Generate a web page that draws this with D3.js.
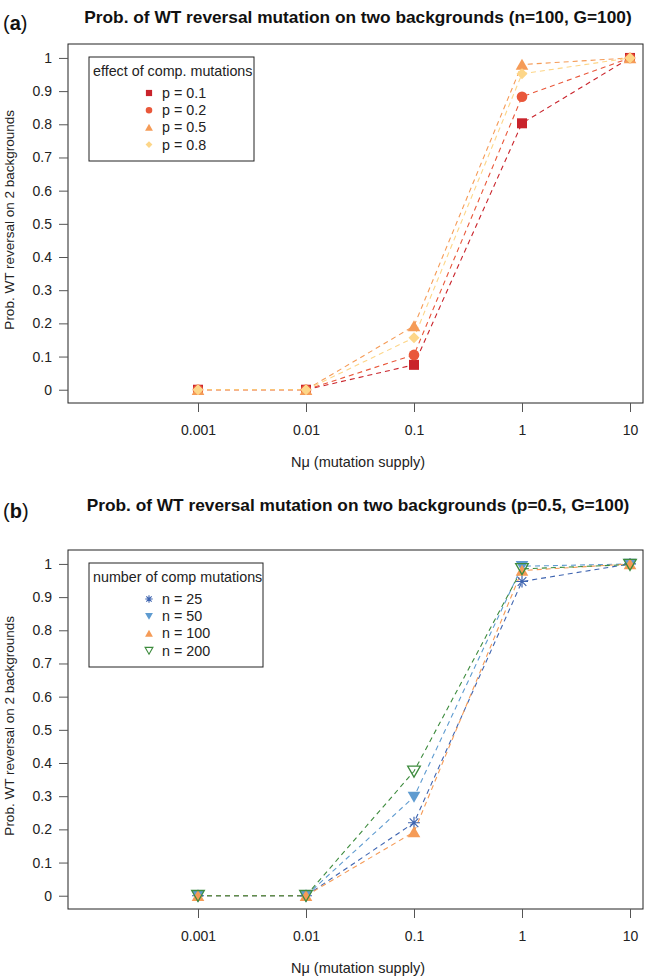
<!DOCTYPE html>
<html><head><meta charset="utf-8">
<script src="https://cdn.jsdelivr.net/npm/d3@7"></script>
<style>body{margin:0;background:#fff;} svg{display:block;font-family:"Liberation Sans",Arial,sans-serif;}</style>
</head><body>
<svg id="c" width="655" height="978"></svg>
<script>
// ---- data ----
const xValues = [0.001, 0.01, 0.1, 1, 10];
const xTickLabels = ["0.001", "0.01", "0.1", "1", "10"];
const yTicks = [0, 0.1, 0.2, 0.3, 0.4, 0.5, 0.6, 0.7, 0.8, 0.9, 1];

const seriesNamesA = ["p = 0.1", "p = 0.2", "p = 0.5", "p = 0.8"];
const p01 = [0, 0, 0.075, 0.803, 1.0];
const p02 = [0, 0, 0.105, 0.883, 1.0];
const p05 = [0, 0, 0.192, 0.98, 1.0];
const p08 = [0, 0, 0.157, 0.952, 1.0];

const seriesNamesB = ["n = 25", "n = 50", "n = 100", "n = 200"];
const n25 = [0, 0, 0.22, 0.947, 1.0];
const n50 = [0, 0, 0.298, 0.993, 1.0];
const n100 = [0, 0, 0.192, 0.98, 1.0];
const n200 = [0, 0, 0.375, 0.985, 0.998];

const titleA = "Prob. of WT reversal mutation on two backgrounds (n=100, G=100)";
const titleB = "Prob. of WT reversal mutation on two backgrounds (p=0.5, G=100)";
const legendTitleA = "effect of comp. mutations";
const legendTitleB = "number of comp mutations";
const xTitle = "Nμ (mutation supply)";
const yTitle = "Prob. WT reversal on 2 backgrounds";

// ---- drawing ----
const svg = d3.select("#c");
const shapes = {
  square: s => `M${-s},${-s}H${s}V${s}H${-s}Z`,
  circle: s => `M${s},0A${s},${s} 0 1,1 ${-s},0A${s},${s} 0 1,1 ${s},0Z`,
  triUp: s => `M0,${-s*1.05}L${s*1.15},${s*0.95}L${-s*1.15},${s*0.95}Z`,
  triDown: s => `M0,${s*1.05}L${s*1.15},${-s*0.95}L${-s*1.15},${-s*0.95}Z`,
  diamond: s => `M0,${-s}L${s},0L0,${s}L${-s},0Z`,
  asterisk: s => `M${-s},0H${s}M0,${-s}V${s}M${-s*0.72},${-s*0.72}L${s*0.72},${s*0.72}M${-s*0.72},${s*0.72}L${s*0.72},${-s*0.72}`
};
const FS = 14;

function panel(cfg) {
  const g = svg.append("g");
  const L = 68, R = 643, T = cfg.top, B = cfg.top + 359;
  const x = d3.scaleLog().domain([Math.pow(10, -3 - 130/108), Math.pow(10, 1 + 13/108)]).range([L, R]);
  const y = d3.scaleLinear().domain([-0.04, 1.042]).range([B, T]);

  // title
  g.append("text").attr("x", 358).attr("y", cfg.titleY).attr("text-anchor", "middle")
    .attr("font-size", 17.3).attr("font-weight", "bold").attr("fill", "#111").text(cfg.title);
  const lab = g.append("text").attr("x", 3).attr("y", cfg.titleY + 7).attr("font-size", 20).attr("fill", "#111");
  lab.append("tspan").text("(");
  lab.append("tspan").attr("font-weight", "bold").text(cfg.letter);
  lab.append("tspan").text(")");

  // box
  g.append("rect").attr("x", L).attr("y", T).attr("width", R - L).attr("height", B - T)
    .attr("fill", "none").attr("stroke", "#222").attr("stroke-width", 1);

  // axes
  const yAx = g.append("g").attr("transform", `translate(${L},0)`)
    .call(d3.axisLeft(y).tickValues(yTicks).tickSize(9).tickPadding(7).tickFormat(d3.format("~g")));
  yAx.select(".domain").remove();
  yAx.selectAll("line").attr("stroke", "#555");
  yAx.selectAll("text").attr("font-size", FS).attr("fill", "#222").attr("font-family", "Liberation Sans, Arial, sans-serif");

  const xAx = g.append("g").attr("transform", `translate(0,${B})`)
    .call(d3.axisBottom(x).tickValues(xValues).tickSize(9).tickPadding(13).tickFormat((d, i) => xTickLabels[i]));
  xAx.select(".domain").remove();
  xAx.selectAll("line").attr("stroke", "#555");
  xAx.selectAll("text").attr("font-size", FS).attr("fill", "#222").attr("font-family", "Liberation Sans, Arial, sans-serif");

  g.append("text").attr("x", 358).attr("y", B + 64).attr("text-anchor", "middle")
    .attr("font-size", 14.5).attr("fill", "#222").text(xTitle);
  g.append("text").attr("transform", `translate(14,${(y(0)+y(1))/2 - 4}) rotate(-90)`).attr("text-anchor", "middle")
    .attr("font-size", 13.5).attr("fill", "#222").text(yTitle);

  // series
  const line = d3.line().x((d, i) => x(xValues[i])).y(d => y(d));
  cfg.series.forEach(s => {
    g.append("path").attr("d", line(s.values)).attr("fill", "none").attr("stroke", s.color)
      .attr("stroke-width", 1.1).attr("stroke-dasharray", "5,4");
  });
  cfg.series.forEach(s => {
    s.values.forEach((v, i) => {
      g.append("path").attr("transform", `translate(${x(xValues[i])},${y(v)})`)
        .attr("d", shapes[s.shape](s.size))
        .attr("fill", s.open || s.shape === "asterisk" ? "none" : s.color)
        .attr("stroke", s.open || s.shape === "asterisk" ? s.color : "none")
        .attr("stroke-width", s.shape === "asterisk" ? 1.2 : 1.3);
    });
  });

  // legend
  const lx = 89, ly = T + 13;
  g.append("rect").attr("x", lx).attr("y", ly).attr("width", cfg.legendW).attr("height", 104)
    .attr("fill", "#fff").attr("stroke", "#222").attr("stroke-width", 1);
  g.append("text").attr("x", lx + 4).attr("y", ly + 19).attr("font-size", 14.3).attr("fill", "#222").text(cfg.legendTitle);
  cfg.series.forEach((s, i) => {
    const cy = ly + 36 + i * 17.2;
    g.append("path").attr("transform", `translate(${lx + 60},${cy})`)
      .attr("d", shapes[s.shape](s.size * 0.62))
      .attr("fill", s.open || s.shape === "asterisk" ? "none" : s.color)
      .attr("stroke", s.open || s.shape === "asterisk" ? s.color : "none")
      .attr("stroke-width", 1.1);
    g.append("text").attr("x", lx + 73).attr("y", cy + 5).attr("font-size", 14.3).attr("fill", "#222").text(s.name);
  });
}

panel({
  top: 44, titleY: 23, letter: "a", title: titleA, legendTitle: legendTitleA, legendW: 165,
  series: [
    {name: seriesNamesA[0], values: p01, color: "#c9232b", shape: "square", size: 5},
    {name: seriesNamesA[1], values: p02, color: "#e9573a", shape: "circle", size: 5.3},
    {name: seriesNamesA[2], values: p05, color: "#f59b57", shape: "triUp", size: 5.5},
    {name: seriesNamesA[3], values: p08, color: "#fdd688", shape: "diamond", size: 5.5}
  ]
});
panel({
  top: 550, titleY: 511, letter: "b", title: titleB, legendTitle: legendTitleB, legendW: 174,
  series: [
    {name: seriesNamesB[0], values: n25, color: "#3e64b0", shape: "asterisk", size: 6},
    {name: seriesNamesB[1], values: n50, color: "#5e9bd0", shape: "triDown", size: 5.5},
    {name: seriesNamesB[2], values: n100, color: "#f59b57", shape: "triUp", size: 5.5},
    {name: seriesNamesB[3], values: n200, color: "#3d8b3d", shape: "triDown", size: 5.5, open: true}
  ]
});
</script>
</body></html>
